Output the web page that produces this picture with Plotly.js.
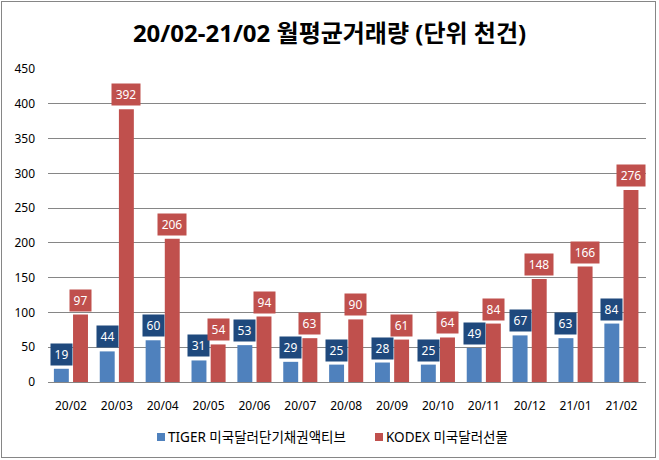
<!DOCTYPE html>
<html>
<head>
<meta charset="utf-8">
<script src="https://cdn.plot.ly/plotly-3.0.1.min.js"></script>
<style>
  body { margin: 0; padding: 0; background: #fff; }
  #chart { width: 659px; height: 460px; position: absolute; left: 0; top: 0; }
  #frame { position: absolute; left: 1px; top: 1px; width: 653px; height: 455px; border: 1px solid #868686; pointer-events: none; }
</style>
</head>
<body>
<div id="chart"></div>
<div id="frame"></div>
<script>
const categories = ["20/02","20/03","20/04","20/05","20/06","20/07","20/08","20/09","20/10","20/11","20/12","21/01","21/02"];
const tigerValues = [19,44,60,31,53,29,25,28,25,49,67,63,84];
const kodexValues = [97,392,206,54,94,63,90,61,64,84,148,166,276];
const tigerName = "TIGER 미국달러단기채권액티브";
const kodexName = "KODEX 미국달러선물";
const titleText = "20/02-21/02 월평균거래량 (단위 천건)";
const yTicks = [0,50,100,150,200,250,300,350,400,450];

const FONT = "'Noto Sans', 'Noto Sans CJK KR', sans-serif";
const TIGER_COLOR = "#4F81BD";
const KODEX_COLOR = "#C0504D";
const TIGER_LABEL_BG = "#1F497D";

const traces = [
  { type: "bar", name: tigerName, x: categories, y: tigerValues, marker: { color: TIGER_COLOR }, hoverinfo: "skip", showlegend: false },
  { type: "bar", name: kodexName, x: categories, y: kodexValues, marker: { color: KODEX_COLOR }, hoverinfo: "skip", showlegend: false }
];

const annotations = [];
function addLabels(values, shift, bg) {
  values.forEach((v, i) => {
    const t = String(v);
    annotations.push({
      x: categories[i], y: v, xref: "x", yref: "y",
      text: t, showarrow: false,
      xanchor: "center", yanchor: "bottom",
      xshift: shift, yshift: 3,
      width: t.length * 7 + 3,
      bgcolor: bg, borderpad: 2,
      font: { family: FONT, size: 12, color: "#ffffff" }
    });
  });
}
addLabels(tigerValues, -9.6, TIGER_LABEL_BG);
addLabels(kodexValues, 9.6, KODEX_COLOR);

// custom legend (plot area spans x 48..646 px, y 69..382 px)
const px = v => (v - 48) / 598;
const py = v => (382 - v) / 313;
const legendItems = [
  { name: tigerName, color: TIGER_COLOR, x0: 157 },
  { name: kodexName, color: KODEX_COLOR, x0: 375 }
];
const shapes = [];
legendItems.forEach(it => {
  shapes.push({
    type: "rect", xref: "paper", yref: "paper",
    x0: px(it.x0), x1: px(it.x0 + 8), y0: py(441), y1: py(433),
    fillcolor: it.color, line: { width: 0 }
  });
  annotations.push({
    xref: "paper", yref: "paper", x: px(it.x0 + 9), y: py(437),
    xanchor: "left", yanchor: "middle", showarrow: false,
    text: it.name,
    font: { family: FONT, size: 13.5, color: "#000000" }
  });
});

const layout = {
  width: 659, height: 460,
  margin: { l: 48, r: 13, t: 69, b: 78 },
  paper_bgcolor: "#ffffff", plot_bgcolor: "#ffffff",
  font: { family: FONT, size: 12, color: "#000000" },
  title: {
    text: "<b>" + titleText + "</b>",
    font: { family: FONT, size: 24, color: "#000000" },
    x: 0.5, xanchor: "center", xref: "container",
    y: 1 - 34 / 460, yanchor: "middle", yref: "container"
  },
  barmode: "group",
  bargap: 0.165,
  bargroupgap: 0.22,
  showlegend: false,
  xaxis: {
    type: "category", automargin: false,
    showgrid: false, zeroline: false,
    showline: true, linecolor: "#868686", linewidth: 1,
    ticks: "", ticklabelstandoff: 13,
    tickfont: { family: FONT, size: 12, color: "#000000" },
    fixedrange: true
  },
  yaxis: {
    range: [0, 450], tickvals: yTicks, ticktext: yTicks.map(String), automargin: false,
    showgrid: true, gridcolor: "#868686", gridwidth: 1,
    zeroline: false, showline: false,
    ticks: "", ticklabelstandoff: 12,
    tickfont: { family: FONT, size: 12, color: "#000000" },
    fixedrange: true
  },
  shapes: shapes,
  annotations: annotations
};

Plotly.newPlot("chart", traces, layout, { displayModeBar: false, staticPlot: true });
</script>
</body>
</html>
